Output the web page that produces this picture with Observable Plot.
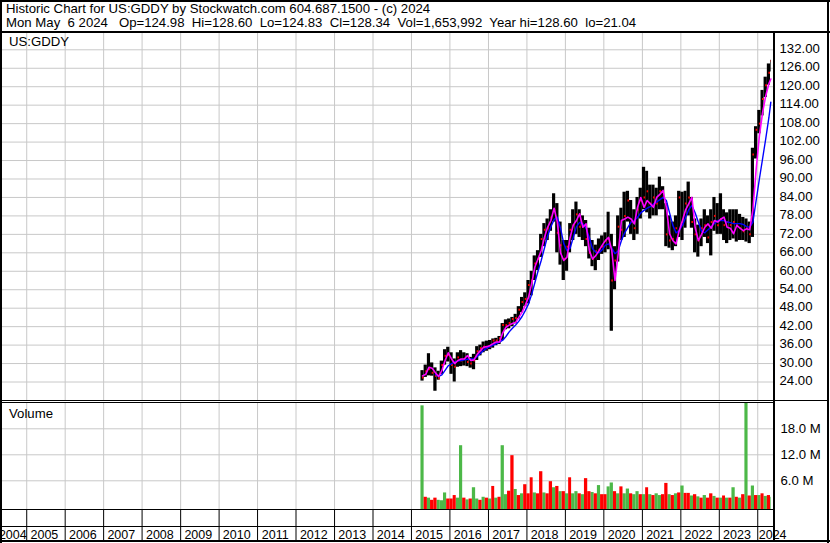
<!DOCTYPE html>
<html><head><meta charset="utf-8">
<script src="https://cdn.jsdelivr.net/npm/d3@7"></script>
<script src="https://cdn.jsdelivr.net/npm/@observablehq/plot@0.6"></script>
<style>
body{margin:0;background:#fff;}
#c{position:relative;width:830px;height:543px;overflow:hidden;background:#fff;font-family:"Liberation Sans",Arial,sans-serif;}
#c svg{position:absolute;display:block;}
</style></head><body><div id="c"></div>
<script>
// ---- header texts ----
const titleLine = "Historic Chart for US:GDDY by Stockwatch.com 604.687.1500 - (c) 2024";
const infoLine = "Mon May  6 2024   Op=124.98  Hi=128.60  Lo=124.83  Cl=128.34  Vol=1,653,992  Year hi=128.60  lo=21.04";
const symbolLabel = "US:GDDY";
const volumeLabel = "Volume";

// ---- axis ticks ----
const priceTicks = [24, 30, 36, 42, 48, 54, 60, 66, 72, 78, 84, 90, 96, 102, 108, 114, 120, 126, 132];
const volTicks = [6, 12, 18];
const yearLabels = [2004, 2005, 2006, 2007, 2008, 2009, 2010, 2011, 2012, 2013, 2014, 2015, 2016, 2017, 2018, 2019, 2020, 2021, 2022, 2023, 2024];

// ---- monthly data, Apr 2015 .. May 2024 ----
const high = [
27.7,29.5,33.2,30.2,28.6,27.5,30.8,34.5,35.3,
33.5,31.5,33.5,34.2,33.5,33.2,32.0,33.0,35.5,36.0,37.0,37.3,
37.5,38.0,38.2,38.8,43.0,44.2,44.5,45.0,46.0,48.5,51.5,53.0,
57.0,60.0,65.0,66.7,72.0,75.5,77.0,80.0,85.2,82.0,76.0,70.0,
70.0,75.5,80.0,82.5,80.0,78.0,76.5,74.0,70.0,68.5,70.5,71.5,
72.5,79.2,72.0,68.0,78.0,80.5,85.7,86.0,83.0,80.0,84.0,87.0,
93.8,92.5,88.0,88.0,87.0,90.6,87.5,82.0,78.0,76.0,78.0,86.0,
85.7,86.0,89.0,84.0,77.0,75.0,77.0,80.0,78.0,80.0,84.0,82.0,
85.2,80.0,79.0,80.0,80.0,80.0,78.5,77.5,77.0,76.0,100.0,107.0,
112.3,118.8,123.1,127.4,128.6];
const low = [
24.3,25.5,26.0,25.9,21.0,24.6,26.5,29.5,30.5,
26.5,24.0,28.8,29.0,29.2,29.0,28.5,28.0,31.0,32.5,33.5,34.0,
34.5,35.0,35.8,36.2,37.5,41.0,41.3,42.0,42.9,44.5,46.5,48.5,
49.4,52.0,57.0,60.2,64.5,68.0,70.0,73.0,76.0,66.0,62.0,57.0,
60.0,66.0,70.0,72.0,71.0,70.0,68.0,64.0,61.5,60.2,63.5,65.5,
66.0,67.0,40.5,54.0,63.0,70.0,71.0,76.0,72.0,70.0,72.0,77.0,
80.0,79.0,77.0,78.0,78.0,80.0,80.0,68.0,67.5,66.7,68.0,71.0,
70.0,74.0,78.0,74.0,66.0,64.6,68.0,71.0,69.0,65.0,73.0,72.0,
72.0,70.0,69.0,70.0,70.5,69.5,70.0,70.0,69.5,69.0,71.0,96.5,
104.7,110.5,116.5,120.5,124.8];
const close = [
25.5,27.5,28.2,27.0,26.0,25.2,29.5,32.5,32.8,
29.5,29.0,32.0,31.0,31.5,30.5,30.0,31.0,34.0,35.0,35.5,35.0,
35.5,37.5,37.5,38.2,42.5,42.5,43.2,44.5,44.8,47.5,50.0,51.0,
55.5,57.0,62.5,64.0,70.5,73.5,74.0,77.5,80.0,72.5,68.5,64.0,
68.0,73.5,75.0,78.5,74.5,75.0,70.5,66.0,64.0,66.5,67.0,68.0,
70.0,70.5,57.0,63.5,74.5,73.5,78.0,83.0,76.0,74.0,80.0,83.0,
84.0,86.0,82.0,84.0,82.0,86.0,84.0,72.0,70.0,70.5,74.0,84.0,
76.0,82.0,84.0,76.0,72.0,70.0,74.0,75.0,71.0,76.0,78.0,75.0,
77.0,75.0,76.0,75.0,76.0,75.0,74.0,73.0,74.0,72.0,98.0,106.0,
108.0,116.0,120.5,124.5,128.34];
// short moving average (magenta)
const maShort = [
26.0,26.5,28.8,28.5,27.0,25.8,27.7,31.0,33.5,
31.5,30.0,31.0,31.5,31.5,32.6,31.0,31.2,33.0,34.2,35.3,35.5,
35.9,36.5,37.0,37.0,40.0,41.8,42.5,43.0,43.4,45.0,46.7,49.0,
51.6,56.0,61.3,64.0,66.7,71.0,74.3,76.5,80.5,76.0,66.0,63.5,
64.6,71.0,75.0,76.5,78.7,74.3,75.4,66.7,64.0,65.1,66.7,68.5,
70.0,71.0,66.7,57.0,65.7,76.5,77.0,77.6,77.0,75.4,80.8,84.0,
80.8,83.0,82.0,80.8,84.0,85.0,86.3,80.8,72.2,70.0,68.9,73.2,
76.5,80.0,81.9,84.0,74.3,70.0,72.0,74.3,75.4,74.0,76.5,76.0,
77.0,77.6,74.3,74.0,72.2,74.9,74.0,73.2,73.8,73.5,80.0,93.0,
104.0,111.5,117.0,121.0,122.5];
// long moving average (blue)
const maLong = [
null,null,null,null,26.5,25.8,26.3,27.8,29.3,
30.0,30.5,30.8,31.0,31.2,31.4,31.5,31.5,32.3,33.3,34.3,35.0,
35.5,36.0,36.5,37.0,37.6,38.8,40.3,41.5,42.5,43.8,45.3,47.2,
49.4,52.5,56.2,60.0,63.5,67.5,71.5,74.5,76.8,77.6,74.0,69.0,
66.7,67.5,71.0,74.5,75.9,75.4,74.0,71.0,67.3,66.2,66.0,67.0,
68.5,68.9,67.5,65.7,66.7,70.0,72.5,74.3,76.0,76.5,77.5,79.0,
79.8,80.5,81.0,81.9,82.5,83.3,84.0,83.0,79.0,75.0,72.5,73.2,
75.0,77.5,80.0,81.4,79.0,76.0,73.0,72.5,73.5,74.5,75.5,76.5,
76.5,76.5,76.0,75.8,75.5,75.5,75.5,75.2,74.5,74.3,76.0,83.0,
90.0,96.5,103.0,110.0,115.0];
// volume in millions
const volume = [
23.3,2.2,2.0,1.5,2.0,1.5,1.4,3.2,1.8,
1.8,2.6,2.0,14.1,2.0,1.6,1.8,4.4,1.8,1.5,2.2,2.0,
1.8,4.7,2.0,2.2,14.1,2.8,3.6,11.8,4.0,2.6,3.0,5.1,
3.0,6.7,3.2,3.0,8.1,3.2,3.0,5.8,4.4,4.7,3.5,3.5,
3.0,6.7,3.0,3.5,3.0,2.8,6.5,3.5,3.3,3.0,4.9,2.8,
2.8,4.6,5.5,3.5,3.0,4.6,3.0,4.1,3.0,2.8,3.5,2.8,
2.8,4.4,2.8,2.6,3.0,2.6,2.8,5.4,2.8,2.6,3.0,3.2,
4.8,3.1,3.1,2.5,2.8,2.3,2.0,2.6,2.0,3.0,2.4,2.0,
2.0,2.5,2.0,2.0,4.4,2.2,2.0,2.8,25.0,2.5,4.8,2.6,
2.6,3.0,2.4,2.6,2.2];
// volume bar direction: g = up (green), r = down (red)
const volDir = ("grgrrgggr" + "rrggrgrggrgr" + "grgrggrrgrgr" + "rrgrrgrrgrgr" + "grggrgrrgrgr" +
  "rggrgrggrggr" + "grgrggrrgrgr" + "grrgrgrgrrgr" + "grgrgrgrgrgr" + "grgrg").split("");

// ---- build rows ----
const monthStarts = d3.utcMonth.range(new Date(Date.UTC(2015, 3, 1)), new Date(Date.UTC(2024, 4, 2)));
const lastDay = new Date(Date.UTC(2024, 4, 7));
const rows = monthStarts.map((d, i) => {
  const x2 = i < monthStarts.length - 1 ? monthStarts[i + 1] : lastDay;
  return {x1: d, x2, xm: new Date((+d + +x2) / 2), hi: high[i], lo: low[i], cl: close[i],
    ma1: maShort[i], ma2: maLong[i], vol: volume[i], dir: volDir[i]};
});
const yearStarts = yearLabels.slice(1).map(y => new Date(Date.UTC(y, 0, 1)));

const FONT = "'Liberation Sans', Arial, sans-serif";
const xScale = {type: "utc", domain: [new Date(Date.UTC(2004, 4, 16)), new Date(Date.UTC(2024, 5, 8))], axis: null};
const GRID = "#c8c8c8";
const GREEN = "#4cb848";
const base = {width: 830, marginLeft: 2, marginRight: 56, marginTop: 0, marginBottom: 0,
  style: {fontFamily: FONT, background: "transparent", color: "#000"}};

const c = document.getElementById("c");

// price panel
const price = Plot.plot({...base, height: 367,
  x: xScale,
  y: {domain: [17.99, 137.3], axis: null},
  marks: [
    Plot.ruleX(yearStarts, {stroke: GRID}),
    Plot.ruleY(priceTicks, {stroke: GRID}),
    Plot.rect(rows, {x1: "x1", x2: "x2", y1: "lo", y2: "hi", fill: "#000"}),
    Plot.ruleY(rows, {y: "cl", x1: "xm", x2: "x2", stroke: "#ff0000", strokeWidth: 2}),
    Plot.line(rows, {x: "xm", y: "ma2", stroke: "#0000ff", strokeWidth: 1.4}),
    Plot.line(rows, {x: "xm", y: "ma1", stroke: "#ff00ff", strokeWidth: 1.6}),
    Plot.axisY(priceTicks, {anchor: "right", tickSize: 0, tickPadding: 5, label: null,
      tickFormat: d => d.toFixed(2), fontSize: 13.2, dy: -1})
  ]});
price.style.left = "0px"; price.style.top = "33px";
c.appendChild(price);

// volume panel
const VOL_FLOOR = -0.62;
const vol = Plot.plot({...base, height: 106,
  x: xScale,
  y: {domain: [VOL_FLOOR, 23.84], axis: null},
  marks: [
    Plot.ruleX(yearStarts, {stroke: GRID}),
    Plot.ruleY(volTicks, {stroke: GRID}),
    Plot.rect(rows, {filter: d => d.dir === "g", x1: "x1", x2: "x2", y1: VOL_FLOOR, y2: "vol", fill: GREEN, clip: true}),
    Plot.rect(rows, {filter: d => d.dir === "r", x1: "x1", x2: "x2", y1: VOL_FLOOR, y2: "vol", fill: "#ff0000", clip: true}),
    Plot.axisY(volTicks, {anchor: "right", tickSize: 0, tickPadding: 6, label: null,
      tickFormat: d => d.toFixed(1) + " M", fontSize: 13.2})
  ]});
vol.style.left = "0px"; vol.style.top = "403px";
c.appendChild(vol);

// year axis strip
const yearData = yearLabels.map((y, i) => {
  if (i === 0) return {label: String(y), x: new Date(Date.UTC(y + 1, 0, 1)), anchor: "end"};
  if (i === yearLabels.length - 1) return {label: String(y), x: new Date(Date.UTC(y, 0, 1)), anchor: "start"};
  return {label: String(y), x: new Date(Date.UTC(y, 6, 2)), anchor: "middle"};
});
const axisStrip = Plot.plot({...base, height: 33,
  x: xScale,
  marks: [
    Plot.ruleX(yearStarts, {stroke: "#000"}),
    ...["end", "middle", "start"].map(a => Plot.text(yearData.filter(d => d.anchor === a), {
      x: "x", text: "label", textAnchor: a, dx: a === "end" ? 0 : a === "start" ? 1 : -1.5,
      frameAnchor: "bottom", lineAnchor: "bottom", dy: -3.5, fontSize: 12.5, fill: "#000"}))
  ]});
axisStrip.style.left = "0px"; axisStrip.style.top = "509px";
c.appendChild(axisStrip);

// overlay: frame lines and labels
const ns = "http://www.w3.org/2000/svg";
const ov = document.createElementNS(ns, "svg");
ov.setAttribute("width", 830); ov.setAttribute("height", 543);
ov.style.left = "0px"; ov.style.top = "0px";
function rect(x, y, w, h) {
  const r = document.createElementNS(ns, "rect");
  r.setAttribute("x", x); r.setAttribute("y", y); r.setAttribute("width", w); r.setAttribute("height", h);
  r.setAttribute("fill", "#000"); ov.appendChild(r);
}
function text(s, x, y, size) {
  const t = document.createElementNS(ns, "text");
  t.setAttribute("x", x); t.setAttribute("y", y);
  t.setAttribute("font-family", FONT); t.setAttribute("font-size", size);
  t.setAttribute("fill", "#000");
  t.setAttributeNS("http://www.w3.org/XML/1998/namespace", "xml:space", "preserve");
  t.style.whiteSpace = "pre";
  t.textContent = s; ov.appendChild(t);
}
rect(0, 0, 830, 2);      // top
rect(0, 0, 2, 543);      // left
rect(827, 0, 2, 543);    // right
rect(0, 540, 830, 2);    // bottom
rect(0, 31, 830, 2);     // header bottom
rect(773, 33, 2, 508);   // axis divider
rect(0, 400, 829, 1);    // double line
rect(0, 402, 774, 1);
rect(0, 509, 774, 1);    // volume bottom
rect(0, 526, 774, 1);    // tick row bottom
text(titleLine, 6, 13, 13.2);
text(infoLine, 6, 26.5, 13.2);
text(symbolLabel, 9, 45.7, 13.2);
text(volumeLabel, 9, 418, 13.2);
c.appendChild(ov);
</script></body></html>
